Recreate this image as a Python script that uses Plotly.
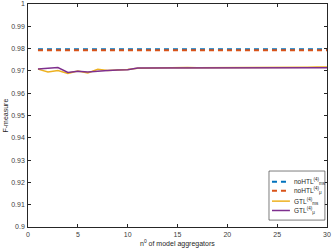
import plotly.graph_objects as go

n_agg = list(range(1, 31))
nohtl_ms = [0.9797] * 30
nohtl_mu = [0.9793] * 30
gtl_ms = [0.9708, 0.9695, 0.9702, 0.9689, 0.9700, 0.9691, 0.9707, 0.9702, 0.9704, 0.9706,
          0.9712, 0.9713, 0.9713, 0.9714, 0.9715, 0.9715, 0.9714, 0.9714, 0.9713, 0.9714,
          0.9716, 0.9716, 0.9715, 0.9714, 0.9715, 0.9716, 0.9716, 0.9716, 0.9717, 0.9718]
gtl_mu = [0.9708, 0.9713, 0.9715, 0.9693, 0.9698, 0.9695, 0.9700, 0.9702, 0.9704, 0.9705,
          0.9713, 0.9713, 0.9712, 0.9712, 0.9713, 0.9713, 0.9713, 0.9712, 0.9713, 0.9711,
          0.9712, 0.9713, 0.9712, 0.9713, 0.9713, 0.9713, 0.9712, 0.9712, 0.9713, 0.9714]
series_names = ["noHTL<sup>(4)</sup><sub>ms</sub>", "noHTL<sup>(4)</sup><sub>μ</sub>",
                "GTL<sup>(4)</sup><sub>ms</sub>", "GTL<sup>(4)</sup><sub>μ</sub>"]
xticks = [0, 5, 10, 15, 20, 25, 30]
yticks = [0.9, 0.91, 0.92, 0.93, 0.94, 0.95, 0.96, 0.97, 0.98, 0.99, 1]
ytick_labels = ["0.9", "0.91", "0.92", "0.93", "0.94", "0.95", "0.96", "0.97", "0.98", "0.99", "1"]

FONT = "Liberation Sans, Arial"
colors = ["#0072BD", "#D95319", "#EDB120", "#7E2F8E"]
dashes = ["5px,4px", "5px,4px", "solid", "solid"]
widths = [2, 2, 1.5, 1.5]
ys = [nohtl_ms, nohtl_mu, gtl_ms, gtl_mu]

fig = go.Figure()
for name, y, c, d, w in zip(series_names, ys, colors, dashes, widths):
    fig.add_trace(go.Scatter(x=n_agg, y=y, mode="lines", name=name,
                             line=dict(color=c, width=w, dash=d), showlegend=False))

axis_common = dict(showgrid=False, zeroline=False, showline=True, linecolor="#262626", linewidth=0.6,
                   mirror="ticks", ticks="inside", ticklen=3, tickcolor="#262626", automargin=False,
                   tickfont=dict(family=FONT, size=7, color="#404040"))

# manual legend (paper coordinates)
shapes = [dict(type="rect", xref="paper", yref="paper", x0=0.806, x1=0.993, y0=0.031, y1=0.251,
               line=dict(color="#262626", width=0.6), fillcolor="white", layer="above")]
annotations = []
leg_y = [0.203, 0.163, 0.116, 0.074]
for name, c, d, w, ly in zip(series_names, colors, dashes, widths, leg_y):
    shapes.append(dict(type="line", xref="paper", yref="paper", x0=0.816, x1=0.876, y0=ly, y1=ly,
                       line=dict(color=c, width=w, dash=d), layer="above"))
    annotations.append(dict(text=name, xref="paper", yref="paper", x=0.884, y=ly, xanchor="left",
                            yanchor="middle", showarrow=False,
                            font=dict(family=FONT, size=6.5, color="#262626")))

annotations += [
    dict(text="n<sup>0</sup> of model aggregators", xref="paper", yref="paper", x=0.5, y=0,
         yshift=-16, xanchor="center", yanchor="middle", showarrow=False,
         font=dict(family=FONT, size=7, color="#262626")),
    dict(text="F-measure", xref="paper", yref="paper", x=0, y=0.5, xshift=-23, textangle=-90,
         xanchor="center", yanchor="middle", showarrow=False,
         font=dict(family=FONT, size=7, color="#262626")),
]

fig.update_layout(
    width=332, height=249,
    margin=dict(l=28, r=5, t=4, b=22),
    paper_bgcolor="white", plot_bgcolor="white",
    xaxis=dict(range=[0, 30], tickvals=xticks, ticklabelstandoff=1, **axis_common),
    yaxis=dict(range=[0.9, 1], tickvals=yticks, ticktext=ytick_labels, ticklabelstandoff=1, **axis_common),
    showlegend=False,
    shapes=shapes,
    annotations=annotations,
)

fig.write_html("out.html", config={"displayModeBar": False},
               post_script="document.body.style.margin='0';document.body.style.padding='0';")
